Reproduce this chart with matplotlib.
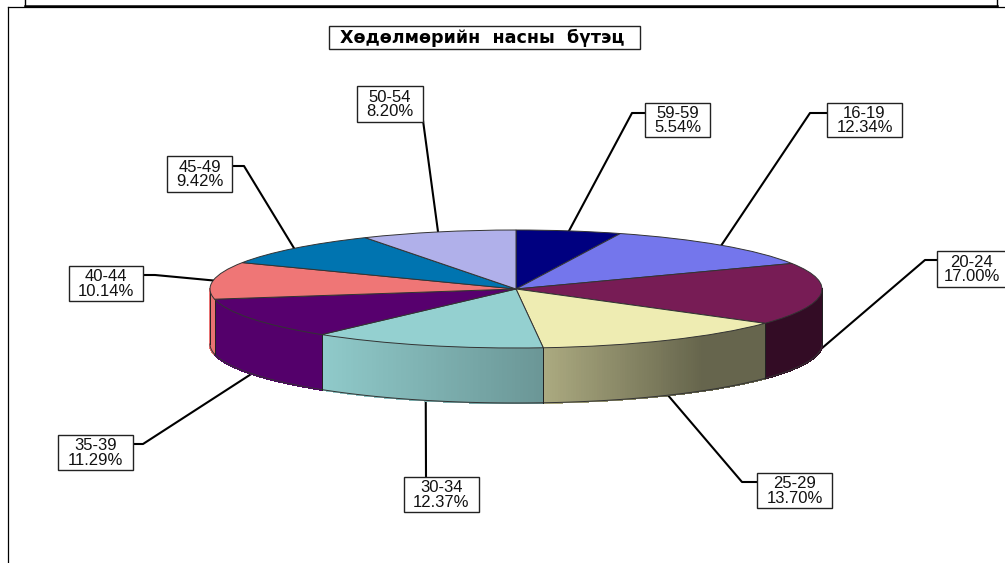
import numpy as np
from matplotlib import pyplot as plt
from matplotlib.patches import Rectangle

labels = ['59-59', '16-19', '20-24', '25-29', '30-34', '35-39', '40-44', '45-49', '50-54']
shares = [5.54, 12.34, 17.00, 13.70, 12.37, 11.29, 10.14, 9.42, 8.20]
colors = ['#000080', '#7476EC', '#771C55', '#EEECB2', '#94D0D0', '#57006E', '#EF7676', '#0074B0', '#B0B0EA']
title = 'Хөдөлмөрийн  насны  бүтэц'

# layout, in pixels of the picture
CX, CY, RX, RY, DEPTH = 516, 289, 306, 59, 55
boxes = [(645, 710, 103, 137), (827, 902, 103, 137), (937, 1006, 251, 287),
         (757, 832, 473, 508), (404, 479, 477, 512), (58, 133, 435, 470),
         (69, 143, 266, 301), (167, 232, 156, 192), (357, 423, 86, 122)]
elbows = [[(632, 113)], [(810, 113)], [(925, 260)], [(742, 482)], [],
          [(143, 444)], [(155, 275)], [(244, 166)], []]
ends = [(645, 113), (827, 113), (937, 260), (757, 482), (426, 477),
        (133, 444), (143, 275), (232, 166), (422, 113)]
# how dark the side wall gets going left to right
shade_x = [322, 543, 700, 822]
shade_v = [0.97, 0.72, 0.43, 0.43]

plt.rcParams['font.family'] = ['Liberation Sans', 'DejaVu Sans']
fig = plt.figure(figsize=(10.05, 5.63), dpi=100)
ax = fig.add_axes([0, 0, 1, 1], zorder=1)
ax.set_xlim(0, 1005)
ax.set_ylim(563, 0)
ax.axis('off')

def rim(deg):
    a = np.radians(deg)
    return CX + RX*np.sin(a), CY - RY*np.cos(a)

# side wall, only the front half shows
edges = np.concatenate([[0], np.cumsum(shares)])*3.6
for i in range(len(shares)):
    a0 = max(edges[i], 90)
    a1 = min(edges[i+1], 270)
    if a1 <= a0:
        continue
    steps = np.linspace(a0, a1, int(a1-a0)*2+2)
    base = np.array(plt.matplotlib.colors.to_rgb(colors[i]))
    for s0, s1 in zip(steps[:-1], steps[1:]):
        x0, y0 = rim(s0)
        x1, y1 = rim(s1)
        c = base*np.interp((x0+x1)/2, shade_x, shade_v)
        ax.fill([x0, x1, x1, x0], [y0, y1, y1+DEPTH, y0+DEPTH], color=c, lw=1.0,
                antialiased=False, zorder=2)
    xs, ys = rim(steps)
    ax.plot(xs, ys+DEPTH, color='#333333', lw=0.7, zorder=3)
    for s in (a0, a1):
        x, y = rim(s)
        ax.plot([x, x], [y, y+DEPTH], color='#222222', lw=0.7, zorder=3)

# leaders and label boxes
for i, lab in enumerate(labels):
    mid = (edges[i]+edges[i+1])/2
    x, y = rim(mid)
    if 90 < mid < 270:
        y = y + DEPTH
    pts = [(x, y)] + elbows[i] + [ends[i]]
    ax.plot([p[0] for p in pts], [p[1] for p in pts], color='black', lw=1.5, zorder=1)
    x0, x1, y0, y1 = boxes[i]
    ax.add_patch(Rectangle((x0, y0), x1-x0, y1-y0, fc='white', ec='#222222', lw=1.0, zorder=4))
    ax.text((x0+x1)/2, (y0+y1)/2+0.5, '%s\n%.2f%%' % (lab, shares[i]), ha='center', va='center',
            fontsize=12, linespacing=0.95, color='#111111', zorder=5)

# title
ax.add_patch(Rectangle((329, 26), 311, 23, fc='white', ec='#222222', lw=1.0, zorder=4))
ax.text(482, 37.5, title, ha='center', va='center', fontsize=12.6, fontweight='bold',
        family=['DejaVu Sans'], color='black', zorder=5)

# frame lines round the chart
ax.plot([8, 8], [7, 563], color='black', lw=0.9)
ax.plot([8, 1005], [7, 7], color='black', lw=0.9)
ax.plot([25, 997], [6, 6], color='black', lw=1.8)
ax.plot([25, 25], [0, 6], color='black', lw=1.0)
ax.plot([997, 997], [0, 6], color='black', lw=1.0)

# top face, the pie is squashed into the ellipse by the axes limits
pie_ax = fig.add_axes([0, 0, 1, 1], zorder=2)
pie_ax.patch.set_visible(False)
pie_ax.pie(shares, colors=colors, startangle=90, counterclock=False, radius=1,
           wedgeprops=dict(edgecolor='#333333', linewidth=0.7))
pie_ax.set_aspect('auto')
pie_ax.set_xlim(-CX/RX, (1005-CX)/RX)
pie_ax.set_ylim((CY-563)/RY, CY/RY)

fig.savefig('out.png', dpi=100)
